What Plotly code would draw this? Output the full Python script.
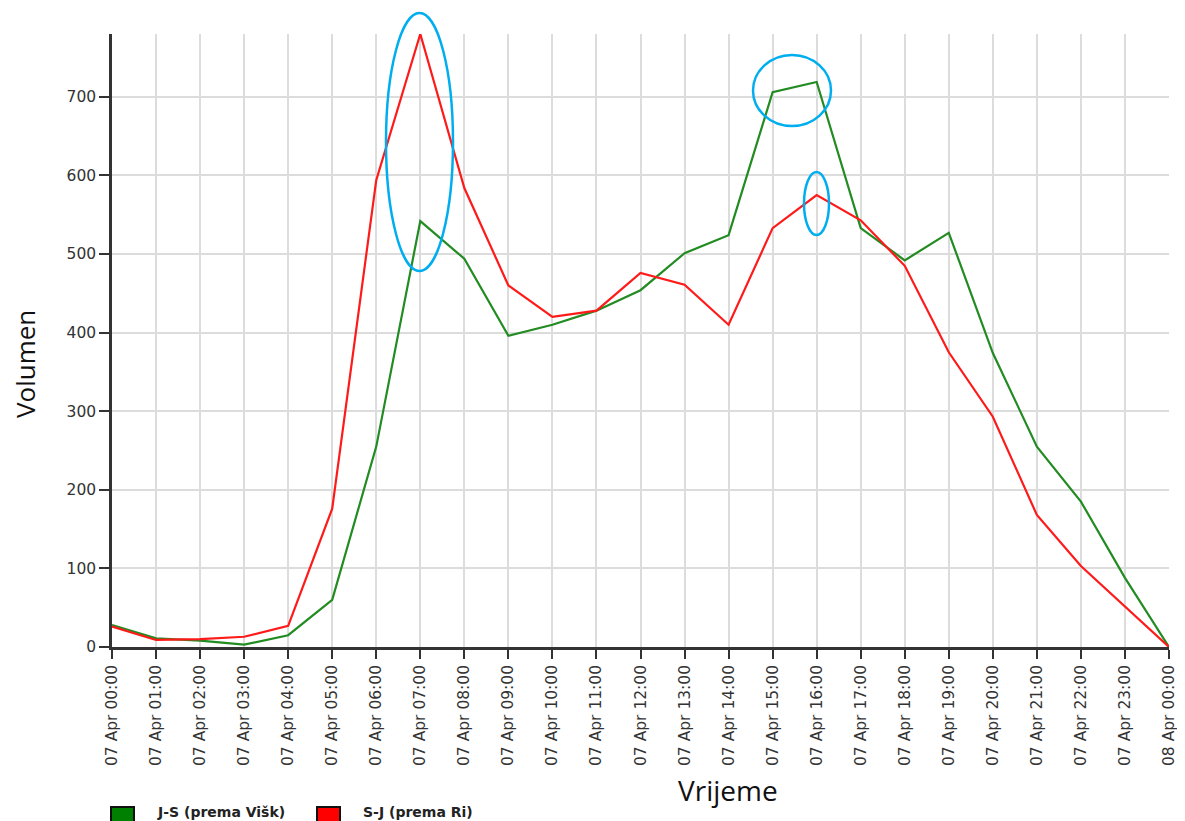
import plotly.graph_objects as go
import pandas as pd

times = pd.date_range("2019-04-07 00:00", "2019-04-08 00:00", freq="h")
js_values = [28, 11, 8, 3, 15, 60, 255, 542, 494, 396, 410, 428, 454, 501, 524,
             706, 719, 533, 492, 527, 374, 255, 185, 88, 0]
sj_values = [26, 9, 10, 13, 27, 176, 594, 780, 584, 460, 420, 428, 476, 461, 410,
             533, 575, 543, 485, 375, 293, 168, 103, 52, 0]
y_ticks = [0, 100, 200, 300, 400, 500, 600, 700]
series_names = ["J-S (prema Višk)", "S-J (prema Ri)"]

GREEN = "#228b22"
RED = "#ff1a1a"
BLUE = "#00aeef"

# screen geometry of the plot area (the page body adds an 8px offset)
PL, PR, PT, PB = 112, 1169, 34, 647
PW, PH = PR - PL, PB - PT


def px(x):
    return (x - PL) / PW


def py(y):
    return (PB - y) / PH


fig = go.Figure()
fig.add_trace(go.Scatter(x=times, y=js_values, mode="lines", name=series_names[0],
                         line=dict(color=GREEN, width=2.2), showlegend=False))
fig.add_trace(go.Scatter(x=times, y=sj_values, mode="lines", name=series_names[1],
                         line=dict(color=RED, width=2.2), showlegend=False))

# highlight ellipses
ellipses = [(386, 271, 453, 13), (753, 126, 831, 55), (804, 235, 829, 172)]
for x0, y0, x1, y1 in ellipses:
    fig.add_shape(type="circle", xref="paper", yref="paper",
                  x0=px(x0), y0=py(y0), x1=px(x1), y1=py(y1),
                  line=dict(color=BLUE, width=2.5))

# manual legend
legend_items = [(series_names[0], "#008000", 111, 155), (series_names[1], "#ff0000", 317, 361)]
for nm, col, sx, tx in legend_items:
    fig.add_shape(type="rect", xref="paper", yref="paper",
                  x0=px(sx), x1=px(sx + 23), y0=py(830), y1=py(807),
                  fillcolor=col, line=dict(color="#111", width=2))
    fig.add_annotation(xref="paper", yref="paper", x=px(tx), y=py(812), xanchor="left",
                       yanchor="middle", showarrow=False, text="<b>" + nm + "</b>",
                       font=dict(size=14, family="DejaVu Sans", color="#222"))

# axis titles
fig.add_annotation(xref="paper", yref="paper", x=px(728), y=py(790), showarrow=False,
                   text="Vrijeme", font=dict(size=28, family="Open Sans", color="#111"),
                   xanchor="center", yanchor="middle")
fig.add_annotation(xref="paper", yref="paper", x=px(25), y=py(364), showarrow=False,
                   text="Volumen", textangle=-90,
                   font=dict(size=26, family="Open Sans", color="#111"),
                   xanchor="center", yanchor="middle")

W, H = 1177, 813
fig.update_layout(
    width=W, height=H,
    margin=dict(l=PL - 8, r=W - (PR - 8), t=PT - 8, b=H - (PB - 8), autoexpand=False),
    plot_bgcolor="white", paper_bgcolor="white",
    font=dict(family="DejaVu Sans", color="#333"),
    showlegend=False,
)
fig.update_xaxes(
    type="date",
    range=[times[0], times[-1]],
    dtick=3600000, tick0=times[0],
    tickformat="%d %b %H:%M", tickangle=-90,
    tickfont=dict(size=15.5, family="DejaVu Sans", color="#333"),
    showgrid=True, gridcolor="#dcdcdc", gridwidth=1.5,
    showline=True, linecolor="#333", linewidth=2.5,
    ticks="outside", ticklen=9, tickwidth=2, tickcolor="#333",
    zeroline=False, automargin=False,
)
fig.update_yaxes(
    range=[0, 780],
    tickvals=y_ticks,
    tickfont=dict(size=15.5, family="DejaVu Sans", color="#333"),
    showgrid=True, gridcolor="#dcdcdc", gridwidth=1.5,
    showline=True, linecolor="#333", linewidth=2.5,
    ticks="outside", ticklen=10, tickwidth=2, tickcolor="#333",
    zeroline=False, automargin=False,
)

fig.write_html("out.html")
